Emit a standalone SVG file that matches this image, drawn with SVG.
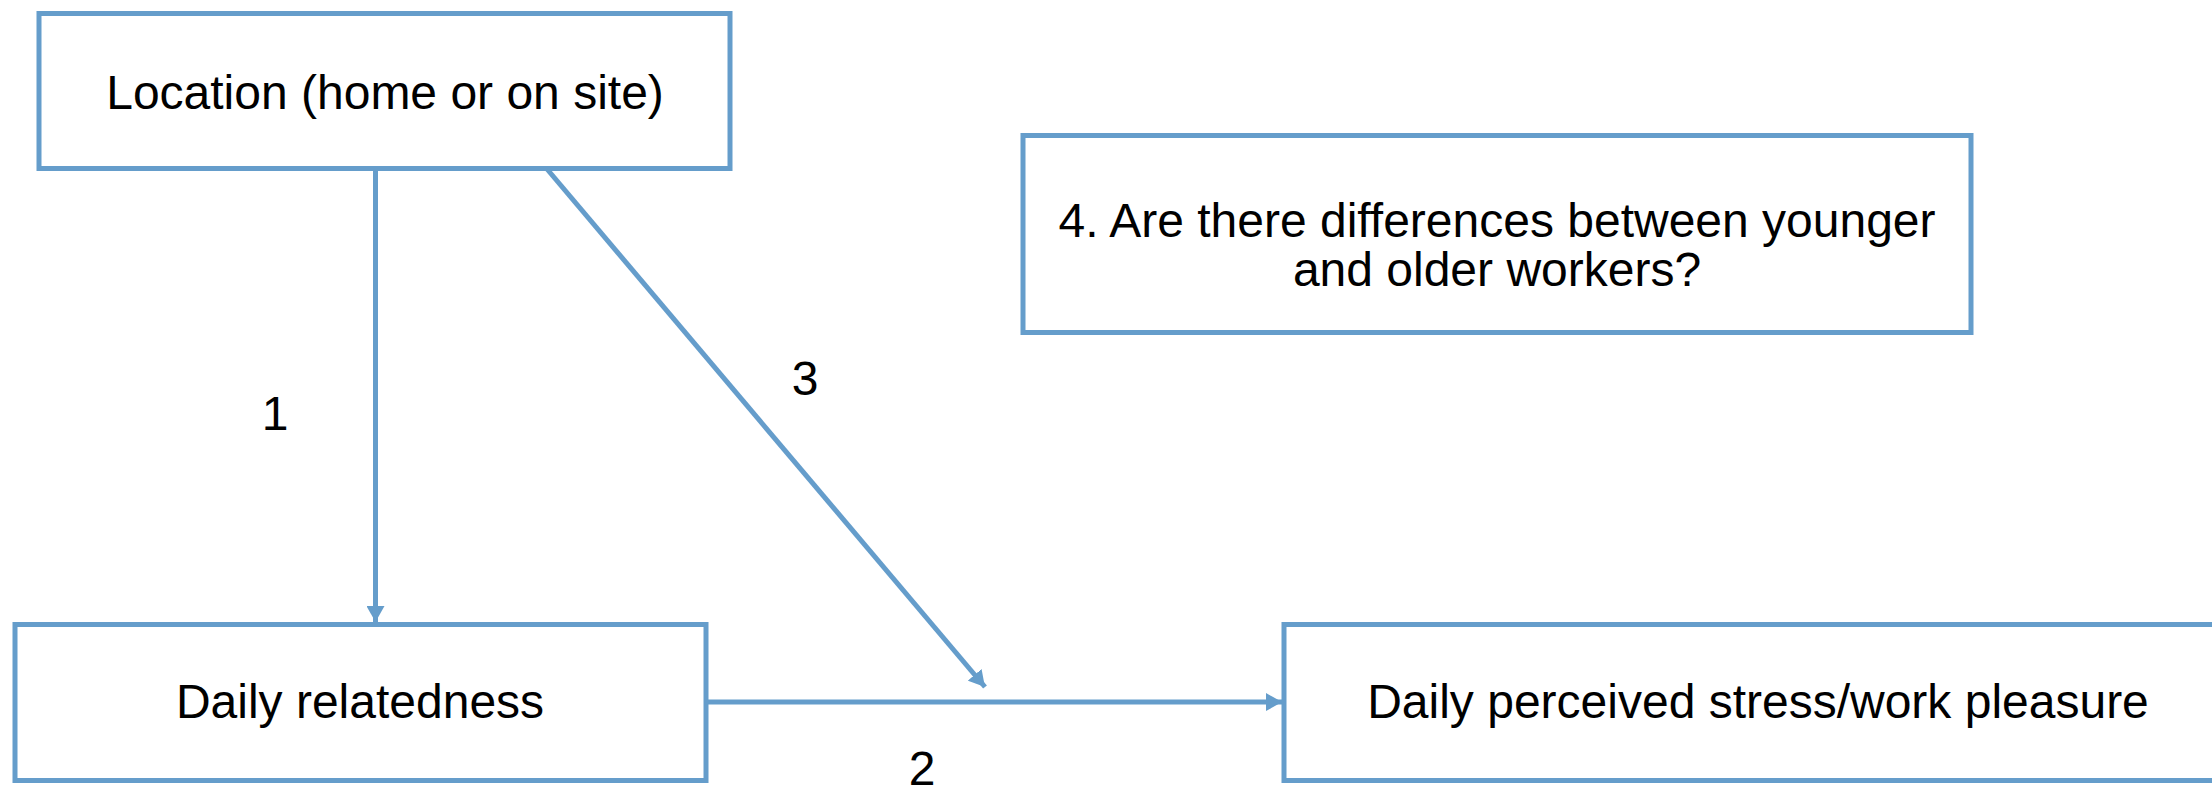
<svg xmlns="http://www.w3.org/2000/svg" width="2212" height="796" viewBox="0 0 2212 796">
  <defs>
    <style>
      .box { fill: #ffffff; stroke: #659DCB; stroke-width: 5; }
      .conn { stroke: #659DCB; stroke-width: 5; fill: none; }
      .txt { font-family: "Liberation Sans", Arial, sans-serif; font-size: 48px; fill: #000000; text-anchor: middle; }
    </style>
    <marker id="arrow" markerUnits="userSpaceOnUse" markerWidth="16" markerHeight="18" refX="16" refY="9" orient="auto">
      <path d="M0,0 L16,9 L0,18 Z" fill="#659DCB"/>
    </marker>
  </defs>
  <rect width="2212" height="796" fill="#ffffff"/>

  <g id="connectors">
    <line class="conn" x1="375.5" y1="169" x2="375.5" y2="622" marker-end="url(#arrow)"/>
    <line class="conn" x1="547" y1="169" x2="985" y2="687" marker-end="url(#arrow)"/>
    <line class="conn" x1="705" y1="702" x2="1282" y2="702" marker-end="url(#arrow)"/>
    <text class="txt" x="275" y="430">1</text>
    <text class="txt" x="805" y="395">3</text>
    <text class="txt" x="922" y="785">2</text>
  </g>

  <g id="location">
    <rect class="box" x="39" y="13.5" width="691" height="155"/>
    <text class="txt" x="385" y="109">Location (home or on site)</text>
  </g>

  <g id="question">
    <rect class="box" x="1023" y="135.5" width="948" height="197"/>
    <text class="txt" x="1497" y="237">4. Are there differences between younger</text>
    <text class="txt" x="1497" y="286">and older workers?</text>
  </g>

  <g id="relatedness">
    <rect class="box" x="15" y="624.5" width="691" height="156"/>
    <text class="txt" x="360" y="718">Daily relatedness</text>
  </g>

  <g id="stress">
    <rect class="box" x="1284" y="624.5" width="960" height="156"/>
    <text class="txt" x="1758" y="718">Daily perceived stress/work pleasure</text>
  </g>
</svg>
